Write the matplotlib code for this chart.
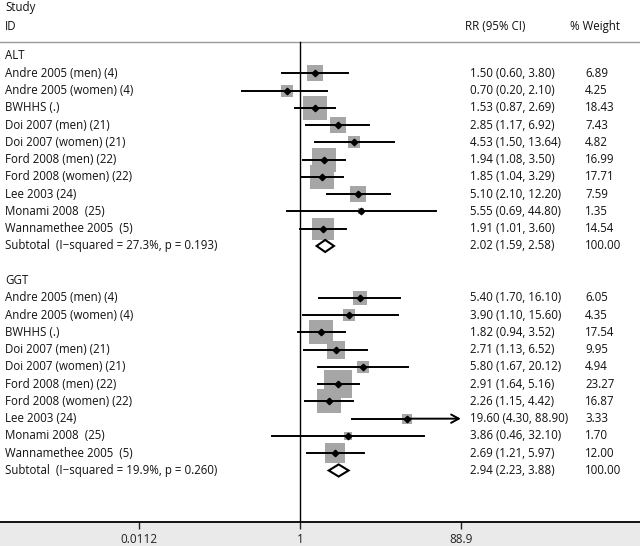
import numpy as np
import matplotlib
matplotlib.use("Agg")
import matplotlib.pyplot as plt
from matplotlib.patches import Polygon
from matplotlib.transforms import blended_transform_factory

plt.rcParams['font.family'] = ['Open Sans', 'DejaVu Sans']

studies = ["Andre 2005 (men) (4)", "Andre 2005 (women) (4)", "BWHHS (.)",
           "Doi 2007 (men) (21)", "Doi 2007 (women) (21)", "Ford 2008 (men) (22)",
           "Ford 2008 (women) (22)", "Lee 2003 (24)", "Monami 2008  (25)",
           "Wannamethee 2005  (5)"]

alt_rr = [1.50, 0.70, 1.53, 2.85, 4.53, 1.94, 1.85, 5.10, 5.55, 1.91]
alt_lo = [0.60, 0.20, 0.87, 1.17, 1.50, 1.08, 1.04, 2.10, 0.69, 1.01]
alt_hi = [3.80, 2.10, 2.69, 6.92, 13.64, 3.50, 3.29, 12.20, 44.80, 3.60]
alt_w = [6.89, 4.25, 18.43, 7.43, 4.82, 16.99, 17.71, 7.59, 1.35, 14.54]
alt_sub = (2.02, 1.59, 2.58)
alt_i2, alt_p = 27.3, 0.193

ggt_rr = [5.40, 3.90, 1.82, 2.71, 5.80, 2.91, 2.26, 19.60, 3.86, 2.69]
ggt_lo = [1.70, 1.10, 0.94, 1.13, 1.67, 1.64, 1.15, 4.30, 0.46, 1.21]
ggt_hi = [16.10, 15.60, 3.52, 6.52, 20.12, 5.16, 4.42, 88.90, 32.10, 5.97]
ggt_w = [6.05, 4.35, 17.54, 9.95, 4.94, 23.27, 16.87, 3.33, 1.70, 12.00]
ggt_sub = (2.94, 2.23, 3.88)
ggt_i2, ggt_p = 19.9, 0.260

tick_vals = [0.0112, 1, 88.9]
tick_labels = ["0.0112", "1", "88.9"]
x_max = 88.9

W, H = 640, 546
fig = plt.figure(figsize=(6.4, 5.46), dpi=100)
fig.patch.set_facecolor('#eaeaea')
ax = fig.add_axes([0, 24 / H, 1, 522 / H])
ax.set_facecolor('white')

PX_PER_LN = 35.83
X0 = 300
ax.set_xscale('log')
ax.set_xlim(np.exp(-X0 / PX_PER_LN), np.exp((W - X0) / PX_PER_LN))
ROW = 17.27
Y0 = 56
ax.set_ylim((522 - Y0) / ROW, -Y0 / ROW)

for s in ['top', 'left', 'right']:
    ax.spines[s].set_visible(False)
ax.spines['bottom'].set_linewidth(1.3)
ax.set_yticks([])
ax.set_xticks(tick_vals)
ax.set_xticklabels(tick_labels)
ax.minorticks_off()
ax.tick_params(axis='x', direction='out', length=5, width=1, colors='#222222',
               labelsize=8.5, pad=3)

tr = blended_transform_factory(fig.transFigure, ax.transData)
fs = 8.3
tc = '#111111'

def ftxt(xpx, y, s, **kw):
    ax.text(xpx / W, y, s, transform=tr, fontsize=fs, color=tc, va='center', ha='left', **kw)

# header
ftxt(5, (8 - Y0) / ROW, "Study")
ftxt(5, (27 - Y0) / ROW, "ID")
ftxt(465, (27 - Y0) / ROW, "RR (95% CI)")
ftxt(570, (27 - Y0) / ROW, "% Weight")
ax.plot([0, 1], [(42 - Y0) / ROW] * 2, transform=tr, color='#999999', lw=1.0, clip_on=False)
ax.plot([1, 1], [(42 - Y0) / ROW, (522 - Y0) / ROW], color='black', lw=1.0)

side_k = 5.82 * 0.72  # points per sqrt(weight)

def group(start, name, rr, lo, hi, w, sub, i2, p):
    ftxt(5, start, name)
    for k in range(len(rr)):
        y = start + 1 + k
        ftxt(5, y, studies[k])
        ftxt(470, y, f"{rr[k]:.2f} ({lo[k]:.2f}, {hi[k]:.2f})")
        ftxt(585, y, f"{w[k]:.2f}")
        side = side_k * np.sqrt(w[k])
        ax.scatter([rr[k]], [y], marker='s', s=side ** 2, color='#a6a6a6', linewidths=0, zorder=2)
        if hi[k] >= x_max:
            ax.plot([lo[k], rr[k]], [y, y], color='black', lw=1.4, zorder=3)
            ax.annotate('', xy=(hi[k], y), xytext=(rr[k], y),
                        arrowprops=dict(arrowstyle='->,head_length=0.55,head_width=0.3',
                                        color='black', lw=1.4, shrinkA=0, shrinkB=0), zorder=3)
        else:
            ax.plot([lo[k], hi[k]], [y, y], color='black', lw=1.4, zorder=3)
        ax.plot([rr[k]], [y], marker='D', ms=3.3, color='black', zorder=4)
    ys = start + 1 + len(rr)
    ftxt(5, ys, f"Subtotal  (I\u2212squared = {i2:.1f}%, p = {p:.3f})")
    ftxt(470, ys, f"{sub[0]:.2f} ({sub[1]:.2f}, {sub[2]:.2f})")
    ftxt(585, ys, "100.00")
    dh = 0.35
    poly = Polygon([(sub[1], ys), (sub[0], ys - dh), (sub[2], ys), (sub[0], ys + dh)],
                   closed=True, facecolor='white', edgecolor='black', lw=1.5, zorder=3)
    ax.add_patch(poly)

group(0, "ALT", alt_rr, alt_lo, alt_hi, alt_w, alt_sub, alt_i2, alt_p)
group(13, "GGT", ggt_rr, ggt_lo, ggt_hi, ggt_w, ggt_sub, ggt_i2, ggt_p)

fig.savefig("out.png", dpi=100, facecolor=fig.get_facecolor())
